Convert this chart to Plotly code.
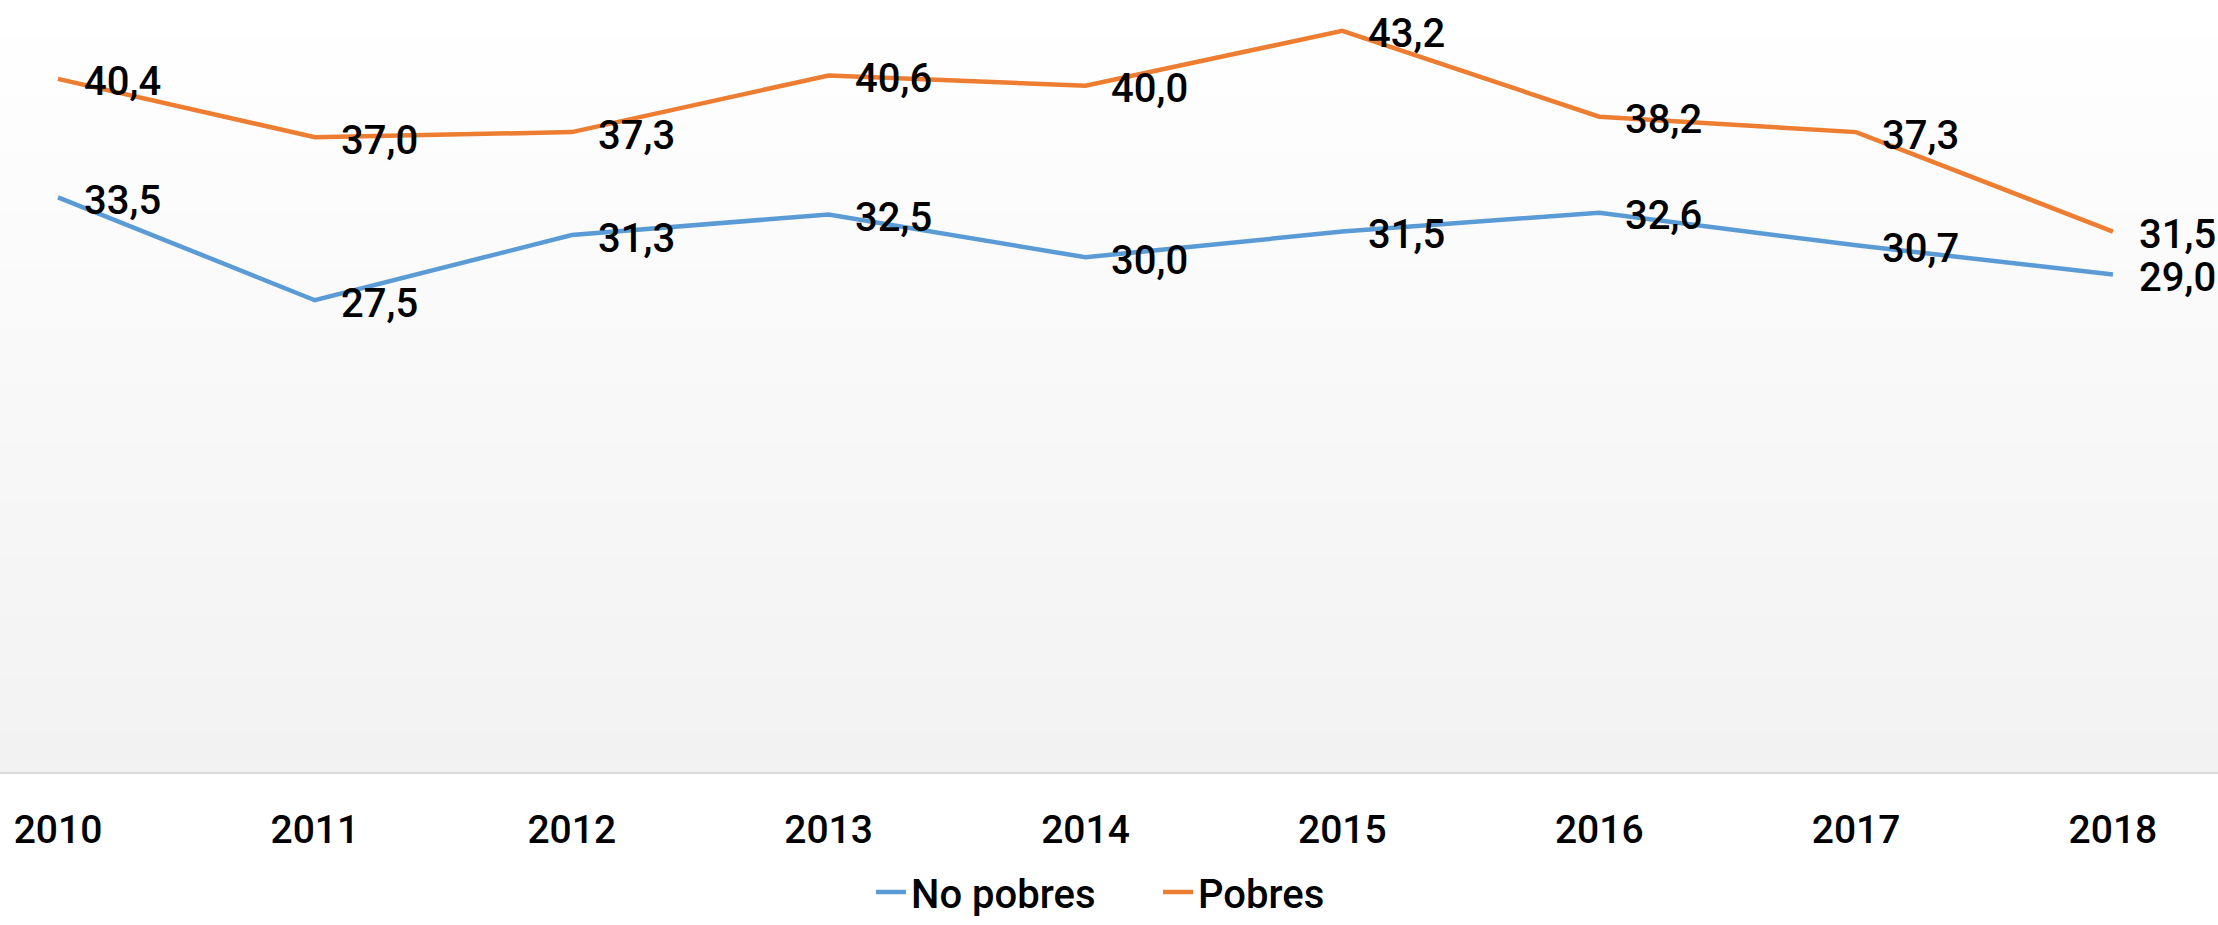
import plotly.graph_objects as go

years = ["2010", "2011", "2012", "2013", "2014", "2015", "2016", "2017", "2018"]
no_pobres = [33.5, 27.5, 31.3, 32.5, 30.0, 31.5, 32.6, 30.7, 29.0]
pobres = [40.4, 37.0, 37.3, 40.6, 40.0, 43.2, 38.2, 37.3, 31.5]

series_names = ["No pobres", "Pobres"]
series_colors = ["#5b9bd5", "#ed7d31"]

FONT = "Roboto, 'DejaVu Sans Condensed', sans-serif"
WEIGHT = 500

fig = go.Figure()
for name, vals, col in zip(series_names, [no_pobres, pobres], series_colors):
    fig.add_trace(go.Scatter(
        x=years, y=vals, name=name, mode="lines",
        line=dict(color=col, width=4.5),
        hoverinfo="skip",
    ))

annotations = []
for vals in [no_pobres, pobres]:
    for i, v in enumerate(vals):
        annotations.append(dict(
            x=i, y=v, xref="x", yref="y",
            text=f"{v:.1f}".replace(".", ","),
            showarrow=False, xanchor="left", yanchor="middle",
            xshift=24, yshift=-3,
            font=dict(family=FONT, size=40, color="#000000", weight=WEIGHT),
        ))

# vertical gradient background (white at top to light gray at bottom)
shapes = []
n = 40
for i in range(n):
    t = (i + 0.5) / n
    g = round(255 - (255 - 242) * t)
    shapes.append(dict(
        type="rect", xref="paper", yref="paper",
        x0=0, x1=1, y0=1 - (i + 1) / n, y1=1 - i / n + 0.002,
        fillcolor=f"rgb({g},{g},{g})", line=dict(width=0), layer="below",
    ))

fig.update_layout(
    width=2218, height=925,
    margin=dict(l=0, r=0, t=0, b=153, autoexpand=False),
    paper_bgcolor="#ffffff",
    plot_bgcolor="#ffffff",
    shapes=shapes,
    annotations=annotations,
    font=dict(family=FONT, color="#000000", weight=WEIGHT),
    xaxis=dict(
        type="category", range=[-0.2258, 8.409],
        showgrid=False, zeroline=False,
        showline=True, linecolor="#d9d9d9", linewidth=2,
        ticks="", ticklabelstandoff=22,
        tickfont=dict(family=FONT, size=39, color="#000000", weight=WEIGHT),
        fixedrange=True,
    ),
    yaxis=dict(
        range=[0, 45], showgrid=False, zeroline=False, showline=False,
        showticklabels=False, ticks="", fixedrange=True,
    ),
    showlegend=True,
    legend=dict(
        orientation="h", x=0.3927, xanchor="left", y=-0.1975, yanchor="bottom",
        font=dict(family=FONT, size=40, color="#000000", weight=WEIGHT),
        entrywidth=242, entrywidthmode="pixels",
        bgcolor="rgba(0,0,0,0)", itemclick=False, itemdoubleclick=False,
    ),
)

fig.write_html(
    "out.html",
    config={"displayModeBar": False},
    post_script="document.body.style.margin='0';document.body.style.overflow='hidden';",
)
